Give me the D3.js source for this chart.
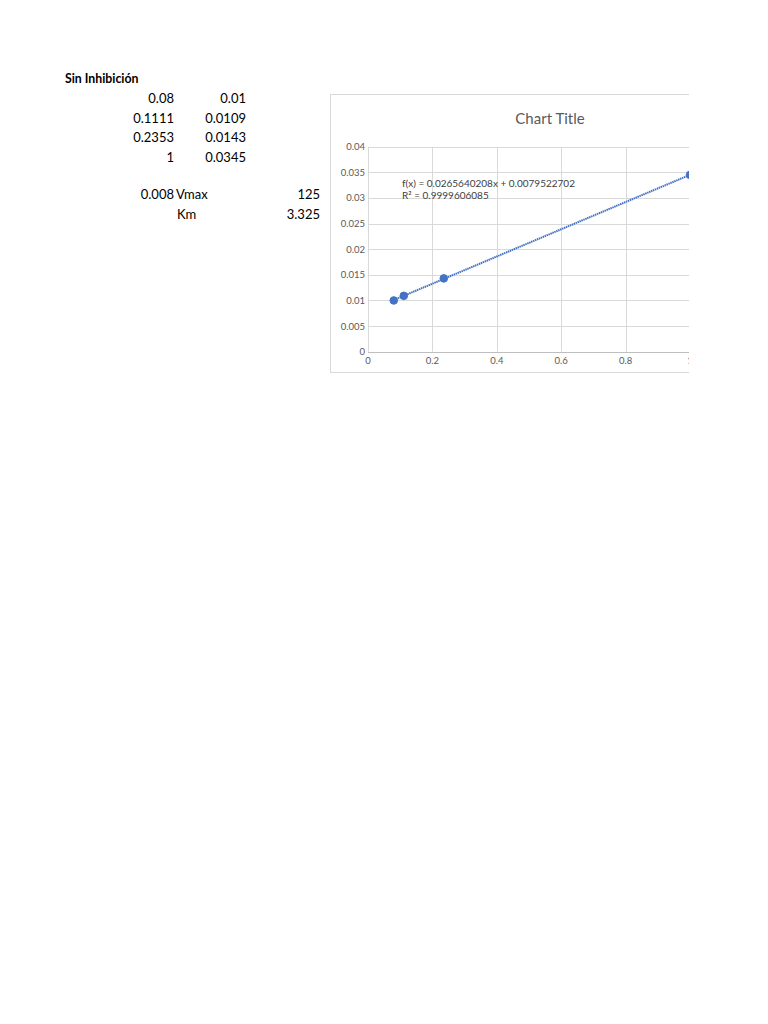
<!DOCTYPE html>
<html>
<head>
<meta charset="utf-8">
<script src="https://cdn.jsdelivr.net/npm/d3@7"></script>
<style>
  body { margin: 0; background: #fff; }
  svg { display: block; }
</style>
</head>
<body>
<script>
// sheet data
const sheetTitle = "Sin Inhibición";
const colS = ["0.08", "0.1111", "0.2353", "1"];
const colV = ["0.01", "0.0109", "0.0143", "0.0345"];
const resLabels = ["Vmax", "Km"];
const resValues = ["125", "3.325"];
const interceptCell = "0.008";

// chart data
const xValues = [0.08, 0.1111, 0.2353, 1];
const yValues = [0.01, 0.0109, 0.0143, 0.0345];
const slope = 0.0265640208, intercept = 0.0079522702, r2 = 0.9999606085;
const xTicks = [0, 0.2, 0.4, 0.6, 0.8, 1];
const yTicks = [0, 0.005, 0.01, 0.015, 0.02, 0.025, 0.03, 0.035, 0.04];

const svg = d3.select("body").append("svg").attr("width", 768).attr("height", 1024);
const font = "Lato, 'Open Sans', sans-serif";

// spreadsheet cells
let sheet = svg.append("g").attr("font-family", font).attr("fill", "#000");
sheet.append("text").attr("x", 65).attr("y", 83).attr("font-size", 12.3).attr("font-weight", "bold").text(sheetTitle);
colS.forEach((t, i) => {
  sheet.append("text").attr("x", 174).attr("y", 103 + i * 19.6).attr("font-size", 13).attr("text-anchor", "end").text(t);
  sheet.append("text").attr("x", 246).attr("y", 103 + i * 19.6).attr("font-size", 13).attr("text-anchor", "end").text(colV[i]);
});
sheet.append("text").attr("x", 174).attr("y", 199).attr("font-size", 13).attr("text-anchor", "end").text(interceptCell);
resLabels.forEach((t, i) => {
  sheet.append("text").attr("x", i == 0 ? 176 : 177).attr("y", 199 + i * 19.5).attr("font-size", 13).text(t);
  sheet.append("text").attr("x", 320).attr("y", 199 + i * 19.5).attr("font-size", 13).attr("text-anchor", "end").text(resValues[i]);
});

// chart, clipped at the page edge like the source
svg.append("clipPath").attr("id", "pageClip")
   .append("rect").attr("x", 0).attr("y", 0).attr("width", 689).attr("height", 1024);
let chart = svg.append("g").attr("clip-path", "url(#pageClip)").attr("font-family", font);

chart.append("rect").attr("x", 330.5).attr("y", 94.5).attr("width", 440).attr("height", 278)
     .attr("fill", "#fff").attr("stroke", "#d9d9d9");

chart.append("text").attr("x", 550).attr("y", 124).attr("text-anchor", "middle")
     .attr("font-size", 15).attr("fill", "#595959").text("Chart Title");

let x = d3.scaleLinear().domain([0, 1]).range([368, 690]);
let y = d3.scaleLinear().domain([0, 0.04]).range([351.7, 146.7]);

chart.selectAll(".hgrid").data(yTicks).enter().append("line")
     .attr("x1", x(0)).attr("x2", x(1) + 1)
     .attr("y1", d => Math.round(y(d)) + 0.5).attr("y2", d => Math.round(y(d)) + 0.5)
     .attr("stroke", d => d == 0 ? "#bfbfbf" : "#d9d9d9");
chart.selectAll(".vgrid").data(xTicks).enter().append("line")
     .attr("x1", d => Math.round(x(d)) + 0.5).attr("x2", d => Math.round(x(d)) + 0.5)
     .attr("y1", y(0.04)).attr("y2", y(0))
     .attr("stroke", "#d9d9d9");

chart.selectAll(".ylab").data(yTicks).enter().append("text")
     .attr("x", 365).attr("y", d => y(d) + 3.5).attr("text-anchor", "end")
     .attr("font-size", 9.5).attr("fill", "#595959").text(d => d);
chart.selectAll(".xlab").data(xTicks).enter().append("text")
     .attr("x", d => x(d)).attr("y", 364).attr("text-anchor", "middle")
     .attr("font-size", 9.5).attr("fill", "#595959").text(d => d);

// linear trendline over the data range
let xr = d3.extent(xValues);
chart.append("line")
     .attr("x1", x(xr[0])).attr("y1", y(slope * xr[0] + intercept))
     .attr("x2", x(xr[1])).attr("y2", y(slope * xr[1] + intercept))
     .attr("stroke", "#4472c4").attr("stroke-width", 2).attr("stroke-dasharray", "1.5,0.6");

chart.selectAll(".pt").data(xValues).enter().append("circle")
     .attr("cx", d => x(d)).attr("cy", (d, i) => y(yValues[i])).attr("r", 3.8)
     .attr("fill", "#4472c4").attr("stroke", "#4472c4");

chart.append("text").attr("x", 402).attr("y", 187).attr("font-size", 10).attr("fill", "#404040")
     .text("f(x) = " + slope + "x + " + intercept);
chart.append("text").attr("x", 402).attr("y", 198.5).attr("font-size", 10).attr("fill", "#404040")
     .text("R² = " + r2);
</script>
</body>
</html>
